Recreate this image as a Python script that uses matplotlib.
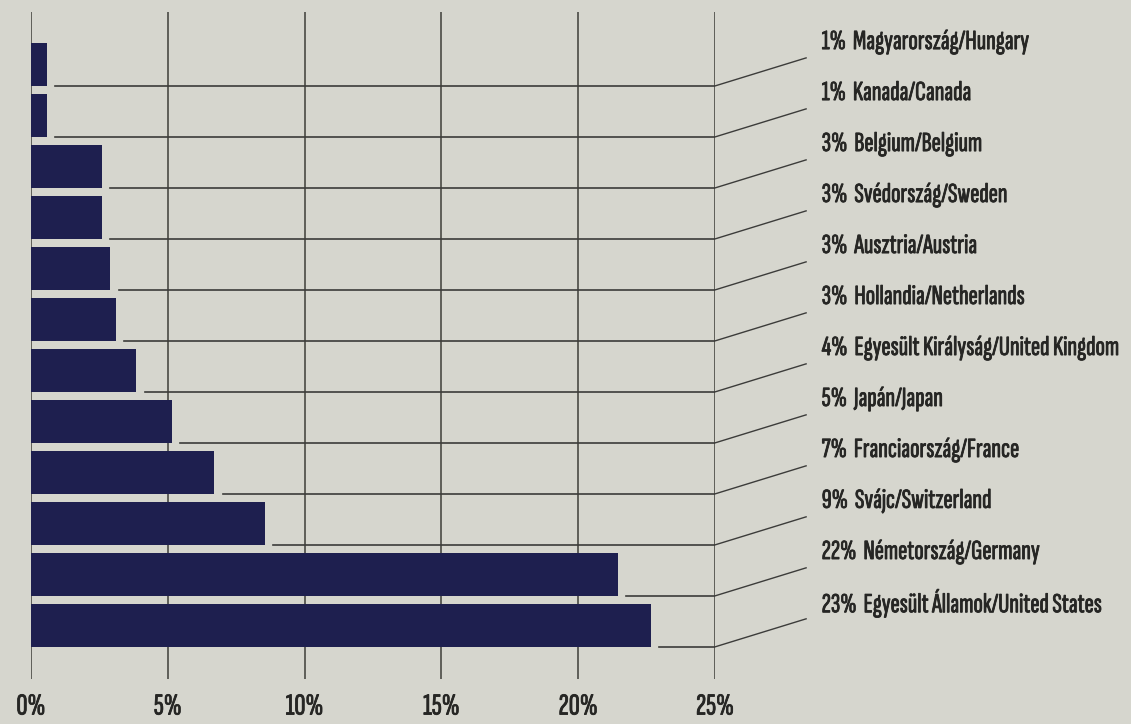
import matplotlib
matplotlib.use("Agg")
import matplotlib.pyplot as plt
import matplotlib.patheffects as pe

# countries, top to bottom
labels = ["Magyarország/Hungary", "Kanada/Canada", "Belgium/Belgium",
          "Svédország/Sweden", "Ausztria/Austria", "Hollandia/Netherlands",
          "Egyesült Királyság/United Kingdom", "Japán/Japan",
          "Franciaország/France", "Svájc/Switzerland",
          "Németország/Germany", "Egyesült Államok/United States"]
pct_labels = ["1%", "1%", "3%", "3%", "3%", "3%", "4%", "5%", "7%", "9%", "22%", "23%"]
values = [0.58, 0.58, 2.6, 2.6, 2.9, 3.1, 3.85, 5.15, 6.7, 8.55, 21.45, 22.65]
ticks = [0, 5, 10, 15, 20, 25]

BG = "#d6d6ce"
BAR = "#1e1f4f"
LINE = "#3c3c3a"
TXT = "#262624"
FONT = ["Sofia Sans Extra Condensed", "DejaVu Sans"]
# thicken the light condensed face a bit
BOLDEN = [pe.withStroke(linewidth=0.6, foreground=TXT)]

W, H = 1131, 724
fig = plt.figure(figsize=(W / 100, H / 100), dpi=100, facecolor=BG)
ax = fig.add_axes([31 / W, 1 - 679 / H, (715 - 31) / W, (679 - 12) / H])
ax.set_facecolor(BG)
ax.set_xlim(0, 25)
ax.set_ylim(12.05, -1.03)
for s in ax.spines.values():
    s.set_visible(False)
ax.set_xticks([])
ax.set_yticks([])

# vertical grid
for t in ticks:
    ax.axvline(t, color="#55554f", lw=1.3, zorder=0)
    ax.text(t, 12.6, f"{t}%", ha="center", va="center", fontsize=22,
            family=FONT, color=TXT, clip_on=False, path_effects=BOLDEN)

n = len(values)
ax.barh(range(n), values, height=0.84, color=BAR, zorder=2)

for i, (v, p, lab) in enumerate(zip(values, pct_labels, labels)):
    yb = i + 0.42
    ax.plot([v + 0.3, 25], [yb, yb], color=LINE, lw=1.2, zorder=1)
    ax.plot([25, 28.33], [yb, yb - 0.55], color=LINE, lw=1.0, clip_on=False)
    ax.text(28.9, i - 0.44, f"{p}  {lab}", ha="left", va="center", fontsize=20,
            family=FONT, color=TXT, clip_on=False, path_effects=BOLDEN)

fig.savefig("out.png", dpi=100, facecolor=BG)
